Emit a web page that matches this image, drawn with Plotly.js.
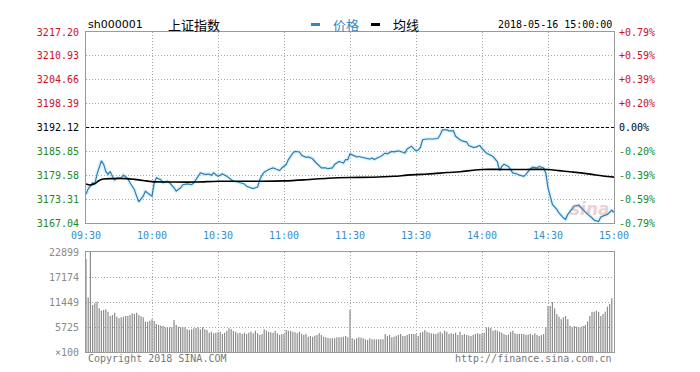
<!DOCTYPE html>
<html><head><meta charset="utf-8">
<script src="https://cdn.plot.ly/plotly-3.0.1.min.js"></script>
<style>html,body{margin:0;padding:0;background:#fff}</style>
</head><body><div id="chart" style="width:700px;height:372px"></div>
<script>
// ---- data (minutes since 09:30, lunch removed) ----
const priceT = [0,1,3,4,5,7,8,9,10,11,12,13,14,16,17,18,19,20,22,23,24,26,27,28,29,30,31,32,34,35,37,38,40,41,43,44,46,48,49,51,52,54,56,57,58,60,62,64,66,67,69,70,72,73,75,76,78,79,80,81,83,85,86,88,89,91,92,94,95,97,98,100,101,103,104,106,107,109,110,112,113,115,117,118,119,120,121,123,124,126,127,129,130,131,133,134,136,137,139,140,142,143,145,146,148,149,150,151,152,153,155,158,160,161,162,164,165,167,168,170,171,173,174,176,177,179,180,182,184,185,187,188,189,190,192,193,194,196,197,199,200,202,203,205,206,208,209,210,211,212,214,215,217,218,219,221,222,224,225,227,228,230,231,233,234,236,237,239,240];
const priceV = [3174.6,3176.0,3177.6,3177.3,3179.8,3183.4,3182.5,3180.6,3179.8,3180.6,3179.3,3178.3,3178.9,3178.9,3179.6,3179.2,3178.7,3177.6,3175.8,3174.1,3172.6,3174.1,3175.4,3174.9,3174.5,3174.1,3177.6,3178.9,3178.4,3177.6,3178.0,3177.6,3176.3,3175.4,3176.3,3177.1,3177.3,3177.1,3177.6,3179.3,3180.2,3179.8,3179.9,3179.6,3180.2,3179.3,3179.9,3179.3,3178.4,3178.0,3177.8,3177.6,3177.3,3176.7,3176.3,3176.1,3176.5,3178.5,3179.6,3180.4,3181.1,3181.5,3181.3,3180.8,3181.5,3182.4,3183.7,3185.4,3185.85,3185.7,3184.8,3184.3,3184.4,3183.9,3183.2,3181.9,3181.5,3181.5,3181.3,3181.5,3182.4,3183.2,3182.8,3183.7,3183.7,3185.2,3185.0,3184.4,3184.5,3184.3,3184.1,3183.8,3184.1,3183.7,3184.3,3184.5,3185.4,3185.2,3185.85,3185.7,3186.0,3185.85,3185.4,3186.5,3187.2,3186.5,3186.0,3186.2,3186.9,3188.9,3189.1,3189.1,3189.3,3190.2,3191.5,3191.5,3191.25,3191.25,3189.8,3188.9,3188.6,3188.3,3187.4,3186.9,3186.9,3187.4,3186.6,3185.4,3184.8,3184.5,3183.1,3180.8,3181.9,3182.5,3181.9,3181.1,3180.2,3179.9,3179.6,3179.3,3179.8,3181.3,3181.7,3181.5,3181.9,3181.5,3180.2,3176.3,3174.1,3171.9,3170.6,3169.7,3168.4,3168.0,3169.3,3170.6,3171.5,3171.7,3171.1,3170.0,3169.3,3168.4,3167.8,3167.4,3168.6,3169.1,3169.3,3170.4,3169.8];
const avgT = [0,2,4,6,8,12,18,22,26,30,40,50,60,70,80,90,100,110,120,130,140,146,152,158,164,170,176,180,190,200,210,215,220,225,230,235,240];
const avgV = [3177.3,3177.0,3177.4,3178.2,3178.6,3178.7,3178.7,3178.5,3178.2,3177.9,3177.8,3177.8,3178.0,3178.0,3178.0,3178.1,3178.4,3178.8,3179.0,3179.06,3179.3,3179.6,3179.8,3180.0,3180.3,3180.5,3180.9,3181.1,3181.1,3181.1,3181.1,3180.8,3180.5,3180.2,3179.8,3179.4,3179.1];
const volAM = [21300,12500,22899,10760,11140,11520,10000,9460,9600,9770,9230,8240,8470,9000,8090,7700,7940,8100,8240,8240,8470,8850,8700,9000,8470,8200,7940,6940,6940,7170,7480,7100,6410,6180,6050,5950,5650,5650,5650,5650,7320,6180,5800,5650,5650,5650,5190,5040,5190,5420,5500,5650,5190,5650,5190,5040,4430,4650,4270,4430,4500,4650,4120,4430,4880,5420,5190,4800,4650,4270,4430,4120,4430,4120,4400,4650,4270,4880,4270,3890,4120,5190,4880,4650,4550,4430,4880,4270,3890,4120,4120,5040,4880,4880,4650,4500,4270,4650,4120,3890,4120,3510,3660,3510,3700,3890,4270,3890,3510,3360,3200,3130,3130,3130,3360,3360,3360,3510,3660,3360];
const volPM = [9600,3130,2900,3130,3360,3250,3130,2900,2750,3130,2900,2900,2900,2900,2900,2900,4120,3660,3890,3360,3510,3700,3890,4120,3660,3660,3890,4120,4120,4120,4120,3660,4430,4650,5040,4650,4430,4270,4200,4120,4430,4650,4270,4880,4650,4120,4300,4120,4430,3890,4650,3890,4120,3890,3760,3660,3890,4120,4270,4120,4270,4430,5650,5650,5500,4880,5040,4880,4650,4430,4120,3890,4000,4650,4880,4270,4120,4120,4120,4120,3890,4000,4120,3890,4270,3890,3660,3890,4120,5650,10530,10530,11450,10000,8700,8090,7480,7940,8240,7480,6000,5650,5950,5800,5650,5650,5950,6180,7000,8240,9230,9230,9460,9230,8240,8700,9230,10380,11000,12280];
const prevClose = 3192.12;
const priceTicks = [3167.04,3173.31,3179.58,3185.85,3192.12,3198.39,3204.66,3210.93,3217.20];
const priceLabels = ['3167.04','3173.31','3179.58','3185.85','3192.12','3198.39','3204.66','3210.93','3217.20'];
const pctLabels = ['-0.79%','-0.59%','-0.39%','-0.20%','0.00%','+0.20%','+0.39%','+0.59%','+0.79%'];
const timeTicks = [0,30,60,90,120,150,180,210,240];
const timeLabels = ['09:30','10:00','10:30','11:00','11:30','13:30','14:00','14:30','15:00'];
const volTicks = [0,5725,11449,17174,22899];
const volLabels = ['\u00d7100','5725','11449','17174','22899'];

// ---- styling ----
const RED='#cc1122', GREEN='#238a23', BLACK='#000000';
const colorOf = v => v > prevClose + 1e-9 ? RED : (v < prevClose - 1e-9 ? GREEN : BLACK);
const colored = (vals, labels) => labels.map((t,i)=>'<span style="color:'+colorOf(vals[i])+'">'+t+'</span>');
const vol = volAM.concat(volPM);
const volX = vol.map((_,i)=>i);
const GRID='#a8a8a8', BORDER='#9a9a9a', MONO='DejaVu Sans Mono', GD='1px,2px';

const traces = [
  {x:priceT, y:priceV, type:'scatter', mode:'lines', xaxis:'x', yaxis:'y', line:{color:'rgba(175,228,246,0.4)', width:4}, hoverinfo:'skip'},
  {x:priceT, y:priceV, type:'scatter', mode:'lines', xaxis:'x', yaxis:'y', line:{color:'#2f7cb0', width:1.2}, name:'价格'},
  {x:avgT, y:avgV, type:'scatter', mode:'lines', xaxis:'x', yaxis:'y', line:{color:'#000', width:1.6, shape:'spline'}, name:'均线'},
  {x:avgT, y:avgV, type:'scatter', mode:'lines', xaxis:'x', yaxis:'y3', line:{color:'rgba(0,0,0,0)', width:0}, hoverinfo:'skip'},
  {x:volX, y:vol, type:'bar', xaxis:'x2', yaxis:'y2', width:0.55, marker:{color:'#8c8c8c', line:{width:0}}}
];

const px = p => (p-86)/528;
const py = p => (352-p)/320;
const layout = {
  width:700, height:372, margin:{l:86, r:86, t:32, b:20},
  paper_bgcolor:'#fff', plot_bgcolor:'#fff', showlegend:false,
  font:{family:MONO, size:10, color:'#000'},
  xaxis:{domain:[0,1], anchor:'y', range:[0,240], tickvals:timeTicks, ticktext:timeLabels,
    tickfont:{color:'#3a8cc8', family:MONO, size:10}, ticks:'', ticklabelstandoff:3,
    showgrid:true, gridcolor:GRID, griddash:GD, gridwidth:1, zeroline:false,
    showline:true, linecolor:BORDER, linewidth:1, mirror:true, fixedrange:true},
  yaxis:{domain:[py(223),1], anchor:'x', range:[3167.04,3217.20], tickvals:priceTicks, ticktext:colored(priceTicks, priceLabels),
    tickfont:{family:MONO, size:10}, ticks:'', ticklabelstandoff:4,
    showgrid:true, gridcolor:GRID, griddash:GD, gridwidth:1, zeroline:false,
    showline:true, linecolor:BORDER, linewidth:1, mirror:true, fixedrange:true},
  yaxis3:{overlaying:'y', side:'right', anchor:'x', range:[3167.04,3217.20], tickvals:priceTicks, ticktext:colored(priceTicks, pctLabels),
    tickfont:{family:MONO, size:10}, ticks:'', ticklabelstandoff:4, showgrid:false, zeroline:false, showline:false, fixedrange:true},
  xaxis2:{domain:[0,1], anchor:'y2', range:[0,240], tickvals:timeTicks, showticklabels:false, ticks:'',
    showgrid:true, gridcolor:GRID, griddash:GD, gridwidth:1, zeroline:false,
    showline:true, linecolor:BORDER, linewidth:1, mirror:true, fixedrange:true},
  yaxis2:{domain:[0,py(252)], anchor:'x2', range:[0,22899], tickvals:volTicks, ticktext:volLabels,
    tickfont:{family:MONO, size:10, color:'#8a8a8a'}, ticks:'', ticklabelstandoff:4,
    showgrid:true, gridcolor:GRID, griddash:GD, gridwidth:1, zeroline:false,
    showline:true, linecolor:BORDER, linewidth:1, mirror:true, fixedrange:true},
  shapes:[
    {type:'line', xref:'x', yref:'y', x0:0, x1:240, y0:prevClose, y1:prevClose, line:{color:'#000', width:1, dash:'3px,2px'}},
    {type:'rect', xref:'paper', yref:'paper', x0:px(311), x1:px(320), y0:py(26), y1:py(23), fillcolor:'#2f86c4', line:{width:0}},
    {type:'rect', xref:'paper', yref:'paper', x0:px(371), x1:px(380), y0:py(26), y1:py(23), fillcolor:'#000', line:{width:0}}
  ],
  annotations:[
    {xref:'paper', yref:'paper', x:0, y:py(25), xanchor:'left', yanchor:'middle', showarrow:false, text:'sh000001', font:{family:'DejaVu Sans', size:11, color:'#000'}},
    {xref:'paper', yref:'paper', x:px(166), y:py(24), xanchor:'left', yanchor:'middle', showarrow:false, text:'上证指数', font:{family:'Noto Sans CJK SC', size:13, color:'#000'}},
    {xref:'paper', yref:'paper', x:px(331), y:py(24), xanchor:'left', yanchor:'middle', showarrow:false, text:'价格', font:{family:'Noto Sans CJK SC', size:13, color:'#2f86c4'}},
    {xref:'paper', yref:'paper', x:px(391), y:py(24), xanchor:'left', yanchor:'middle', showarrow:false, text:'均线', font:{family:'Noto Sans CJK SC', size:13, color:'#000'}},
    {xref:'paper', yref:'paper', x:px(614), y:py(25), xanchor:'right', yanchor:'middle', showarrow:false, text:'2018-05-16 15:00:00', font:{family:MONO, size:10, color:'#000'}},
    {xref:'paper', yref:'paper', x:0, y:py(358), xanchor:'left', yanchor:'middle', showarrow:false, text:'Copyright 2018 SINA.COM', font:{family:MONO, size:10, color:'#777'}},
    {xref:'paper', yref:'paper', x:1, y:py(358), xanchor:'right', yanchor:'middle', showarrow:false, text:'http://finance.sina.com.cn', font:{family:MONO, size:10, color:'#777'}},
    {xref:'paper', yref:'paper', x:px(590), y:py(209), xanchor:'center', yanchor:'middle', showarrow:false, text:'<b><i>sina</i></b>', font:{family:'DejaVu Sans', size:17, color:'rgba(205,120,130,0.35)'}}
  ]
};
Plotly.newPlot('chart', traces, layout, {staticPlot:true, displayModeBar:false});
</script></body></html>
